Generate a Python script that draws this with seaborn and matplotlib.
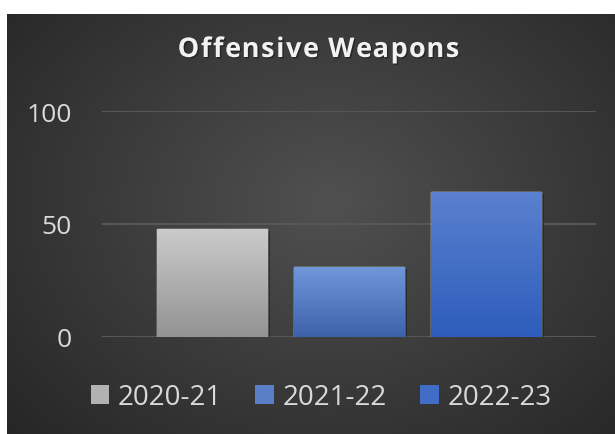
import numpy as np
import matplotlib
matplotlib.use("Agg")
import matplotlib.pyplot as plt
import matplotlib.colors as mcolors
from matplotlib.patches import Patch
import matplotlib.patheffects as pe
import seaborn as sns

# data
years = ["2020-21", "2021-22", "2022-23"]
values = [48, 31, 64]
top_colors = ["#cbcbcb", "#7097da", "#5b80cf"]
bottom_colors = ["#939393", "#3d62aa", "#2d5dbb"]
legend_colors = ["#b2b2b2", "#5a7fc8", "#416dc6"]
title = "Offensive Weapons"

sns.set_style("white")
plt.rcParams["font.family"] = ["Open Sans", "DejaVu Sans"]

fig = plt.figure(figsize=(6.15, 4.35), dpi=100, facecolor="white")

# dark panel with radial gradient
bg = fig.add_axes([7 / 615, 0, 608 / 615, 420 / 435], zorder=0)
yy, xx = np.mgrid[0:1:300j, 0:1:400j]
r = np.sqrt(((xx - 0.53) / 0.75) ** 2 + ((yy - 0.55) / 0.85) ** 2)
r = np.clip(r, 0, 1)
cmap_bg = mcolors.LinearSegmentedColormap.from_list("bg", ["#505050", "#262626"])
bg.imshow(r, cmap=cmap_bg, aspect="auto", extent=[0, 1, 0, 1], origin="lower")
bg.set_axis_off()

ax = fig.add_axes([102 / 615, 1 - 338 / 435, 494 / 615, 226 / 435], zorder=1)
ax.patch.set_alpha(0)

sns.barplot(x=years, y=values, hue=years, palette=legend_colors, width=0.81,
            legend=False, ax=ax, zorder=3)

# gradient fill on bars
for patch, ct, cb in zip(ax.patches, top_colors, bottom_colors):
    x0, y0 = patch.get_x(), patch.get_y()
    w, h = patch.get_width(), patch.get_height()
    cm = mcolors.LinearSegmentedColormap.from_list("g", [cb, ct])
    grad = np.linspace(0, 1, 100).reshape(-1, 1)
    im = ax.imshow(grad, cmap=cm, aspect="auto", origin="lower",
                   extent=[x0, x0 + w, y0, y0 + h], zorder=4)
    im.set_clip_path(patch)
    patch.set_path_effects([pe.SimplePatchShadow(offset=(1.5, -1.5), shadow_rgbFace="#1e1e1e", alpha=0.6), pe.Normal()])
ax.set_xlim(-0.803, 2.803)
ax.set_ylim(0, 100)

ax.set_yticks([0, 50, 100])
ax.yaxis.grid(True, color="#575757", linewidth=1.5)
ax.set_axisbelow(True)
ax.set_xticks([])
ax.tick_params(axis="y", length=0, pad=22, labelsize=19, labelcolor="#d9d9d9")
ax.set_xlabel("")
ax.set_ylabel("")
sns.despine(ax=ax, left=True, bottom=True)

# letter-spaced title
renderer = fig.canvas.get_renderer()
tkw = dict(fontsize=19.5, fontweight="bold", color="#f2f2f2", va="baseline", ha="left")
spacing = 1.6
def char_width(c):
    t = fig.text(0, 0, "x" + c + "x", **tkw)
    t2 = fig.text(0, 0, "xx", **tkw)
    w = t.get_window_extent(renderer).width - t2.get_window_extent(renderer).width
    t.remove()
    t2.remove()
    return w
widths = [char_width(c) for c in title]
total = sum(widths) + spacing * (len(title) - 1)
x = 318.5 - total / 2
for c, w in zip(title, widths):
    if c != " ":
        fig.text(x / 615, 1 - 58 / 435, c, **tkw,
                 path_effects=[pe.withSimplePatchShadow(offset=(1, -1), shadow_rgbFace="#111111", alpha=0.5)])
    x += w + spacing

handles = [Patch(facecolor=c, edgecolor="none", label=y) for c, y in zip(legend_colors, years)]
leg = fig.legend(handles=handles, loc="center", bbox_to_anchor=(321 / 615, 1 - 398 / 435),
                 ncol=3, frameon=False, fontsize=20, handlelength=0.68, handleheight=0.68,
                 handletextpad=0.3, columnspacing=1.2)
for t in leg.get_texts():
    t.set_color("#d9d9d9")

fig.savefig("out.png", dpi=100, facecolor="white")
